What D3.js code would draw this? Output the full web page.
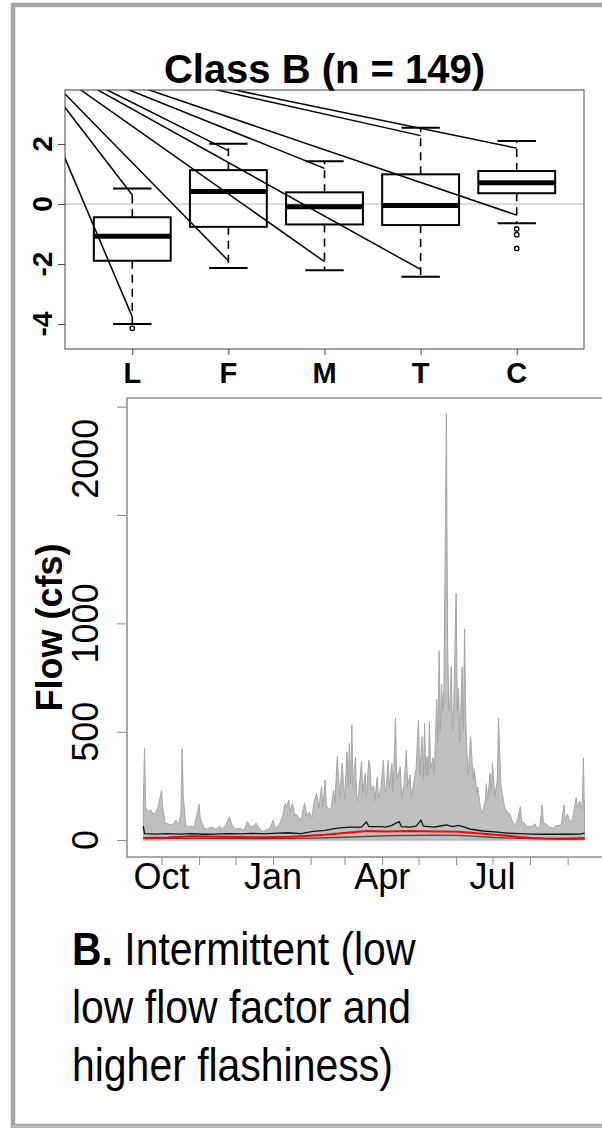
<!DOCTYPE html>
<html>
<head>
<meta charset="utf-8">
<script src="https://cdn.jsdelivr.net/npm/d3@7"></script>
<style>
  body { margin: 0; background: #fff; }
  svg { display: block; }
  text { font-family: Arial, "Liberation Sans", sans-serif; fill: #000; }
</style>
</head>
<body>
<svg id="svg" width="602" height="1128"></svg>
<script>
// ---- boxplot data (Class B) ----
const cats = ["L", "F", "M", "T", "C"];
const q1 = [-1.89, -0.76, -0.68, -0.70, 0.36];
const medians = [-1.07, 0.42, -0.09, -0.05, 0.71];
const q3 = [-0.44, 1.13, 0.39, 0.99, 1.10];
const whiskLo = [-4.0, -2.13, -2.21, -2.42, -0.64];
const whiskHi = [0.52, 2.01, 1.43, 2.54, 2.10];
const outliers = [[-4.14], [], [], [], [-0.83, -1.02, -1.48]];
// the long pointer lines, all leaving from one spot up left of the panel
const lineFrom = [-0.2, 5.3];
const lineHi = [0.30, 1.78, 1.19, 2.28, 1.86];
const lineLo = [-3.76, -1.89, -1.92, -2.18, -0.37];
const boxTicks = [-4, -2, 0, 2];

// ---- hydrograph data: day since 16 Sep, flow in cfs ----
const maxFlow = [
  [0,160],[1,423],[2,150],[3,140],[4,130],[6,140],[8,120],[10,125],[12,150],[14,200],[15,228],[16,150],
  [18,80],[22,70],[25,75],[27,92],[29,70],[31,120],[32,420],[33,200],[35,70],[37,60],[40,65],[42,60],
  [44,110],[46,166],[47,100],[50,55],[53,50],[56,60],[60,50],[63,65],[65,50],[68,70],[71,108],[73,70],
  [76,50],[80,55],[83,45],[86,85],[88,60],[91,65],[93,78],[96,50],[99,40],[103,50],[105,60],[107,92],
  [109,55],[112,70],[115,110],[117,170],[118,150],[120,185],[121,130],[123,170],[125,110],[126,120],
  [128,107],[130,90],[133,169],[135,110],[137,130],[139,100],[141,180],[143,215],[145,150],[147,246],
  [148,150],[150,277],[151,160],[153,140],[155,150],[157,231],[158,170],[160,385],[162,200],[164,354],
  [166,190],[168,408],[169,250],[170,446],[171,260],[172,531],[173,250],[175,385],[176,200],[177,180],
  [178,240],[180,362],[181,220],[183,308],[184,200],[186,369],[187,338],[188,230],[190,250],[191,180],
  [193,292],[194,190],[196,240],[198,369],[199,250],[200,220],[202,369],[203,240],[205,354],[206,220],
  [208,562],[209,280],[210,300],[212,338],[213,200],[215,250],[217,415],[218,250],[220,300],[221,200],
  [223,260],[225,330],[227,554],[228,300],[230,477],[231,280],[232,539],[233,300],[234,385],[235,300],
  [236,546],[237,330],[239,380],[240,300],[242,650],[243,450],[244,874],[245,500],[246,720],[247,600],
  [248,700],[249,1339],[250,1970],[251,900],[252,600],[253,650],[254,800],[255,500],[256,600],[258,1140],
  [259,600],[260,700],[261,450],[263,800],[264,500],[265,974],[266,550],[267,400],[268,300],[270,477],
  [272,280],[273,330],[275,220],[276,245],[278,150],[280,124],[282,180],[283,260],[284,180],[286,308],
  [287,220],[288,354],[290,200],[292,280],[293,562],[295,250],[297,185],[298,150],[300,130],[302,124],
  [305,78],[307,70],[309,100],[311,154],[312,90],[315,75],[317,60],[321,65],[323,75],[325,55],[327,60],
  [329,162],[330,80],[333,70],[335,60],[338,55],[340,65],[344,70],[345,80],[347,162],[348,90],[350,120],
  [352,80],[354,100],[355,130],[357,194],[358,150],[360,180],[362,140],[363,378],[364,100]
];
const upperFlow = [
  [0,65],[1,30],[10,28],[20,30],[30,28],[40,30],[50,27],[60,28],[70,30],[80,29],[90,31],[100,29],[110,32],
  [120,34],[130,30],[140,40],[150,45],[160,55],[170,60],[180,60],[184,84],[186,62],[195,62],[200,60],
  [205,68],[211,85],[213,62],[220,60],[225,64],[229,92],[231,64],[240,60],[245,65],[250,70],[255,62],
  [260,68],[265,60],[270,50],[280,42],[290,38],[300,32],[310,30],[320,28],[330,27],[340,28],[350,27],
  [360,28],[364,32]
];
const medianFlow = [
  [0,10],[20,12],[40,18],[60,16],[80,14],[100,13],[120,15],[130,18],[150,25],[170,35],[185,42],[200,40],
  [220,42],[240,40],[260,38],[270,34],[285,27],[300,20],[310,14],[320,10],[330,7],[345,5],[364,6]
];
const lowerFlow = [
  [0,8],[50,8],[100,7],[130,8],[160,12],[200,20],[240,23],[260,22],[290,12],[310,8],[340,8],[364,10]
];
const flowTicks = [0, 500, 1000, 1500, 2000];
const flowLabels = [[0, "0"], [500, "500"], [1000, "1000"], [1760, "2000"]];
const monthLabels = {9: "Oct", 0: "Jan", 3: "Apr", 6: "Jul"};
const caption = ["Intermittent (low", "low flow factor and", "higher flashiness)"];

const svg = d3.select("#svg");

// outer panel frame
svg.append("rect").attr("x", 13).attr("y", 5).attr("width", 620).attr("height", 1121)
  .attr("fill", "none").attr("stroke", "#a8a8a8").attr("stroke-width", 4.5);
svg.append("line").attr("x1", 13).attr("x2", 602).attr("y1", 1126.5).attr("y2", 1126.5)
  .attr("stroke", "#c4c4c4").attr("stroke-width", 2);

// ================= boxplot =================
const bx = d3.scaleLinear().domain([0.3, 5.7]).range([65, 584]);
const by = d3.scaleLinear().domain([-4.83, 3.8]).range([349, 90]);
const boxPanel = svg.append("g");

boxPanel.append("text").attr("x", 324.5).attr("y", 83).attr("text-anchor", "middle")
  .attr("font-size", 40).attr("font-weight", "bold").text("Class B (n = 149)");

boxPanel.append("clipPath").attr("id", "boxclip").append("rect")
  .attr("x", bx(0.3)).attr("y", by(3.8)).attr("width", bx(5.7) - bx(0.3)).attr("height", by(-4.83) - by(3.8));

boxPanel.append("line").attr("x1", bx(0.3)).attr("x2", bx(5.7)).attr("y1", by(0)).attr("y2", by(0))
  .attr("stroke", "#b4b4b4").attr("stroke-width", 1);

cats.forEach((c, i) => {
  const p = i + 1;
  const g = boxPanel.append("g");
  // whiskers
  [[q1[i], whiskLo[i]], [q3[i], whiskHi[i]]].forEach(([a, b]) => {
    g.append("line").attr("x1", bx(p)).attr("x2", bx(p)).attr("y1", by(a)).attr("y2", by(b))
      .attr("stroke", "#000").attr("stroke-width", 1.6).attr("stroke-dasharray", "8,6");
  });
  [whiskLo[i], whiskHi[i]].forEach(v => {
    g.append("line").attr("x1", bx(p - 0.2)).attr("x2", bx(p + 0.2)).attr("y1", by(v)).attr("y2", by(v))
      .attr("stroke", "#000").attr("stroke-width", 2);
  });
  g.append("rect").attr("x", bx(p - 0.4)).attr("y", by(q3[i]))
    .attr("width", bx(p + 0.4) - bx(p - 0.4)).attr("height", by(q1[i]) - by(q3[i]))
    .attr("fill", "none").attr("stroke", "#000").attr("stroke-width", 2);
  g.append("line").attr("x1", bx(p - 0.4)).attr("x2", bx(p + 0.4)).attr("y1", by(medians[i])).attr("y2", by(medians[i]))
    .attr("stroke", "#000").attr("stroke-width", 5);
  g.selectAll("circle").data(outliers[i]).enter().append("circle")
    .attr("cx", bx(p)).attr("cy", d => by(d)).attr("r", 2.2)
    .attr("fill", "none").attr("stroke", "#000").attr("stroke-width", 1.3);
});

// pointer lines, clipped to the plot box
const pl = boxPanel.append("g").attr("clip-path", "url(#boxclip)");
cats.forEach((c, i) => {
  [lineHi[i], lineLo[i]].forEach(v => {
    pl.append("line").attr("x1", bx(lineFrom[0])).attr("y1", by(lineFrom[1]))
      .attr("x2", bx(i + 1)).attr("y2", by(v))
      .attr("stroke", "#000").attr("stroke-width", 1.5);
  });
});

boxPanel.append("rect").attr("x", bx(0.3)).attr("y", by(3.8)).attr("width", bx(5.7) - bx(0.3))
  .attr("height", by(-4.83) - by(3.8)).attr("fill", "none").attr("stroke", "#444").attr("stroke-width", 1);

// axes
boxPanel.append("g").attr("transform", `translate(${bx(0.3)},0)`)
  .call(d3.axisLeft(by).tickValues(boxTicks).tickSize(7).tickFormat(""))
  .call(g => g.select(".domain").remove())
  .call(g => g.selectAll("line").attr("stroke", "#444"));
boxPanel.selectAll(".ylab").data(boxTicks).enter().append("text")
  .attr("transform", d => `translate(52,${by(d)}) rotate(-90)`)
  .attr("text-anchor", "middle").attr("font-size", 28).attr("font-weight", "bold")
  .text(d => d);
boxPanel.append("g").attr("transform", `translate(0,${by(-4.83)})`)
  .call(d3.axisBottom(bx).tickValues([1, 2, 3, 4, 5]).tickSize(6).tickFormat(""))
  .call(g => g.select(".domain").remove())
  .call(g => g.selectAll("line").attr("stroke", "#444"));
boxPanel.selectAll(".xlab").data(cats).enter().append("text")
  .attr("x", (d, i) => bx(i + 1)).attr("y", 383).attr("text-anchor", "middle")
  .attr("font-size", 29).attr("font-weight", "bold").text(d => d);

// ================= hydrograph =================
const day0 = Date.UTC(2001, 8, 16);
const toDate = d => new Date(day0 + d * 864e5);
const hx = d3.scaleUtc().domain([new Date(Date.UTC(2001, 8, 2, 13)), new Date(Date.UTC(2002, 9, 1))]).range([127, 604]);
const hy = d3.scaleLinear().domain([-78, 2040]).range([857, 398]);
const hydro = svg.append("g");

hydro.append("path").datum(maxFlow)
  .attr("d", d3.area().x(d => hx(toDate(d[0]))).y0(hy(0)).y1(d => hy(d[1])))
  .attr("fill", "#bfbfbf").attr("stroke", "#a6a6a6").attr("stroke-width", 1);

const flowLine = d3.line().x(d => hx(toDate(d[0]))).y(d => hy(d[1]));
hydro.append("path").datum(lowerFlow).attr("d", flowLine)
  .attr("fill", "none").attr("stroke", "#4a4a4a").attr("stroke-width", 1.3);
hydro.append("path").datum(upperFlow).attr("d", flowLine)
  .attr("fill", "none").attr("stroke", "#111").attr("stroke-width", 1.3);
hydro.append("path").datum(medianFlow).attr("d", flowLine)
  .attr("fill", "none").attr("stroke", "#ff0000").attr("stroke-width", 2);

// frame (right side runs off the page)
hydro.append("path")
  .attr("d", `M${hx.range()[1] + 5},${hy(2040)}H${hx.range()[0]}V${hy(-78)}H${hx.range()[1] + 5}`)
  .attr("fill", "none").attr("stroke", "#8c8c8c").attr("stroke-width", 1.5);

hydro.append("g").attr("transform", `translate(${hx.range()[0]},0)`)
  .call(d3.axisLeft(hy).tickValues(flowTicks).tickSize(10).tickFormat(""))
  .call(g => g.select(".domain").remove())
  .call(g => g.selectAll("line").attr("stroke", "#8c8c8c"));
hydro.selectAll(".fy").data(flowLabels).enter().append("text")
  .attr("transform", d => `translate(98,${hy(d[0])}) rotate(-90)`)
  .attr("text-anchor", "middle").attr("font-size", 36).text(d => d[1]);

const months = d3.utcMonth.range(new Date(Date.UTC(2001, 9, 1)), new Date(Date.UTC(2002, 8, 2)));
hydro.append("g").attr("transform", `translate(0,${hy(-78)})`)
  .call(d3.axisBottom(hx).tickValues(months).tickSize(8).tickFormat(""))
  .call(g => g.select(".domain").remove())
  .call(g => g.selectAll("line").attr("stroke", "#8c8c8c"));
hydro.selectAll(".fx").data(months.filter(m => monthLabels[m.getUTCMonth()])).enter().append("text")
  .attr("x", d => hx(d)).attr("y", 889).attr("text-anchor", "middle")
  .attr("font-size", 36).text(d => monthLabels[d.getUTCMonth()]);

hydro.append("text").attr("transform", `translate(62,${(hy(2040) + hy(-78)) / 2}) rotate(-90)`)
  .attr("text-anchor", "middle").attr("font-size", 36).attr("font-weight", "bold").text("Flow (cfs)");

// ================= caption =================
// the caption face is a little narrower and taller than Arial
const cap = svg.append("g").attr("transform", "translate(72,0) scale(0.89,1)")
  .append("text").attr("font-size", 46);
caption.forEach((line, i) => {
  const t = cap.append("tspan").attr("x", 0).attr("y", 965 + i * 58);
  if (i === 0) t.append("tspan").attr("font-weight", "bold").text("B.");
  t.append("tspan").text(i === 0 ? " " + line : line);
});
</script>
</body>
</html>
